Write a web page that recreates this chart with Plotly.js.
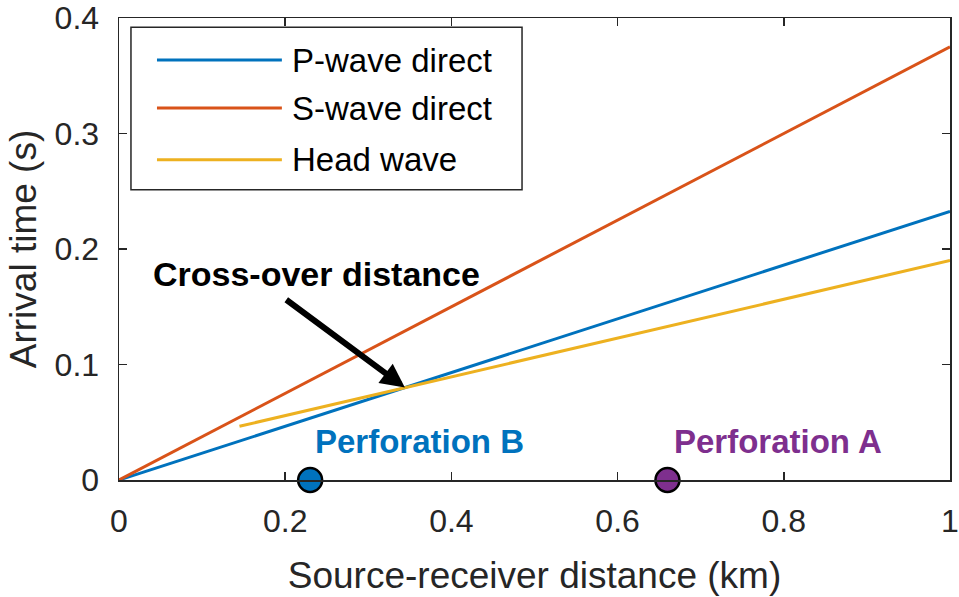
<!DOCTYPE html>
<html>
<head>
<meta charset="utf-8">
<script src="https://cdn.plot.ly/plotly-3.0.1.min.js"></script>
<style>html,body{margin:0;padding:0;background:#fff;}#chart{width:959px;height:597px;}</style>
</head>
<body>
<div id="chart"></div>
<script>
// Data
const pWaveX = [0, 1];
const pWaveY = [0, 0.2326];
const sWaveX = [0, 1];
const sWaveY = [0, 0.375];
const headWaveX = [0.145, 1];
const headWaveY = [0.0465, 0.19];
const perfNames = ['Perforation B', 'Perforation A'];
const perfX = [0.23, 0.66];
const perfY = [0, 0];
const perfColors = ['#0072BD', '#7E2F8E'];
const crossoverX = 0.344;
const crossoverY = 0.08;
const seriesNames = ['P-wave direct', 'S-wave direct', 'Head wave'];
const seriesColors = ['#0072BD', '#D95319', '#EDB120'];
const xTicks = [0, 0.2, 0.4, 0.6, 0.8, 1];
const xTickText = ['0', '0.2', '0.4', '0.6', '0.8', '1'];
const yTicks = [0, 0.1, 0.2, 0.3, 0.4];
const yTickText = ['0', '0.1', '0.2', '0.3', '0.4'];

const FONT = 'Liberation Sans, Arial, sans-serif';
const AX = '#262626';

const traces = [
  {x: pWaveX, y: pWaveY, name: seriesNames[0], mode: 'lines', line: {color: seriesColors[0], width: 3}},
  {x: sWaveX, y: sWaveY, name: seriesNames[1], mode: 'lines', line: {color: seriesColors[1], width: 3}},
  {x: headWaveX, y: headWaveY, name: seriesNames[2], mode: 'lines', line: {color: seriesColors[2], width: 3}},
  {x: perfX, y: perfY, name: 'Perforations', mode: 'markers', cliponaxis: false,
   marker: {color: perfColors, size: 24, line: {color: '#000', width: 2.5}}}
];

// Custom legend (long line samples as in the reference)
const legendY = [0.909, 0.805, 0.693];
const shapes = [
  {type: 'rect', xref: 'paper', yref: 'paper', x0: 0.0144, x1: 0.485, y0: 0.628, y1: 0.98,
   line: {color: AX, width: 1.5}, fillcolor: '#fff', layer: 'below'}
];
const annotations = [];
seriesNames.forEach((n, i) => {
  shapes.push({type: 'line', xref: 'paper', yref: 'paper', x0: 0.0457, x1: 0.196, y0: legendY[i], y1: legendY[i],
    line: {color: seriesColors[i], width: 3}});
  annotations.push({xref: 'paper', yref: 'paper', x: 0.206, y: legendY[i], xanchor: 'left', yanchor: 'middle',
    text: n, showarrow: false, font: {family: FONT, size: 33, color: '#000'}});
});
// Cross-over arrow & label
annotations.push({x: crossoverX, y: crossoverY, ax: 0.1995, ay: 0.157, axref: 'x', ayref: 'y', xref: 'x', yref: 'y',
  text: '', showarrow: true, arrowhead: 2, arrowsize: 0.8, arrowwidth: 6, arrowcolor: '#000'});
annotations.push({x: 0.238, y: 0.178, xref: 'x', yref: 'y', text: '<b>Cross-over distance</b>', showarrow: false,
  font: {family: FONT, size: 34, color: '#000'}});
// Perforation labels
const perfLabelX = [0.362, 0.793];
perfNames.forEach((n, i) => {
  annotations.push({x: perfLabelX[i], y: 0.0335, xref: 'x', yref: 'y', text: '<b>' + n + '</b>', showarrow: false,
    font: {family: FONT, size: 33, color: perfColors[i]}});
});

const layout = {
  width: 959, height: 597,
  margin: {l: 119, r: 9, t: 18, b: 117},
  paper_bgcolor: '#fff', plot_bgcolor: '#fff',
  showlegend: false,
  font: {family: FONT, color: AX},
  xaxis: {range: [0, 1], tickvals: xTicks, ticktext: xTickText, ticks: 'inside', ticklen: 8, tickwidth: 1.5,
    tickcolor: AX, showline: true, linecolor: AX, linewidth: 1.5, mirror: 'ticks', showgrid: false, zeroline: false,
    ticklabelstandoff: 12, ticklabeloverflow: 'allow',
    tickfont: {size: 32, color: AX}, title: {text: 'Source-receiver distance (km)', font: {size: 37, color: AX}, standoff: 24}},
  yaxis: {range: [0, 0.4], tickvals: yTicks, ticktext: yTickText, ticks: 'inside', ticklen: 8, tickwidth: 1.5,
    tickcolor: AX, showline: true, linecolor: AX, linewidth: 1.5, mirror: 'ticks', showgrid: false, zeroline: false,
    ticklabelstandoff: 12, ticklabeloverflow: 'allow',
    tickfont: {size: 32, color: AX}, title: {text: 'Arrival time (s)', font: {size: 37, color: AX}, standoff: 6}},
  shapes: shapes,
  annotations: annotations
};

Plotly.newPlot('chart', traces, layout, {displayModeBar: false, staticPlot: true});
</script>
</body>
</html>
